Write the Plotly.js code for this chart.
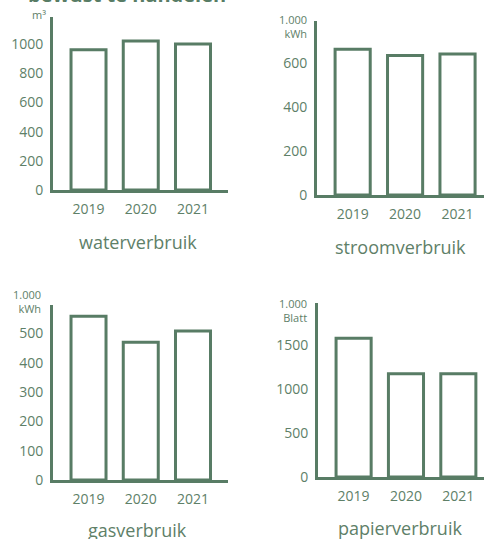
<!DOCTYPE html>
<html>
<head>
<meta charset="utf-8">
<script src="https://cdn.plot.ly/plotly-3.0.1.min.js"></script>
<style>html,body{margin:0;padding:0;background:#fff;}#chart{width:484px;height:539px;}</style>
</head>
<body>
<div id="chart"></div>
<script>
const years = ['2019', '2020', '2021'];
const water = [960, 1020, 1000];
const stroom = [661, 632, 639];
const gas = [559, 470, 508];
const papier = [1576, 1174, 1174];
const panelTitles = ['waterverbruik', 'stroomverbruik', 'gasverbruik', 'papierverbruik'];
const unitLabels = ['m³', '1.000<br>kWh', '1.000<br>kWh', '1.000<br>Blatt'];
const headline = 'bewust te handelen';

const W = 484, H = 539;
const LINE = '#587c65';
const TEXT = '#5e8068';
const FONT = 'Open Sans';

function px(x) { return x / W; }
function py(y) { return 1 - y / H; }

const series = [water, stroom, gas, papier];
const yMax = [1185, 789, 597, 1977];
const yDtick = [200, 200, 100, 500];
// pixel boxes: [left, right, top, bottom]
const boxes = [[53, 228, 17, 190], [317, 484, 21, 195], [53, 228, 305, 480], [318, 484, 303, 477]];
const xEnd = [2.67, 2.505, 2.67, 2.49];

const data = [];
const layout = {
  width: W, height: H,
  margin: {l: 0, r: 0, t: 0, b: 0},
  paper_bgcolor: '#fff', plot_bgcolor: 'rgba(0,0,0,0)',
  showlegend: false,
  bargap: 0.33,
  font: {family: FONT, color: TEXT, size: 14},
  annotations: []
};

series.forEach((vals, i) => {
  const n = i === 0 ? '' : String(i + 1);
  data.push({
    type: 'bar', x: years, y: vals,
    xaxis: 'x' + n, yaxis: 'y' + n,
    marker: {color: '#ffffff', line: {color: LINE, width: 3}},
    hoverinfo: 'skip'
  });
  const b = boxes[i];
  layout['xaxis' + n] = {
    domain: [px(b[0]), px(b[1])],
    anchor: 'y' + n,
    type: 'category',
    range: [-0.68, xEnd[i]],
    showline: true, linecolor: LINE, linewidth: 3,
    showgrid: false, zeroline: false, ticks: '',
    tickfont: {family: FONT, size: 14, color: TEXT},
    ticklabelstandoff: 4,
    fixedrange: true
  };
  layout['yaxis' + n] = {
    domain: [py(b[3]), py(b[2])],
    anchor: 'x' + n,
    range: [0, yMax[i]],
    dtick: yDtick[i], tick0: 0,
    showline: true, linecolor: LINE, linewidth: 3,
    showgrid: false, zeroline: false, ticks: '',
    tickfont: {family: FONT, size: 14, color: TEXT},
    ticklabelstandoff: 4,
    fixedrange: true
  };
  // panel title below
  const titleY = [242, 247, 530, 528][i];
  const titleX = [138, 400, 137, 400][i];
  layout.annotations.push({
    xref: 'paper', yref: 'paper', x: px(titleX), y: py(titleY),
    xanchor: 'center', yanchor: 'middle', showarrow: false,
    text: panelTitles[i], font: {family: FONT, size: 18, color: TEXT}
  });
  // unit label
  const uR = [48, 309, 43, 309][i];
  const uY = [14, 27, 301, 310][i];
  layout.annotations.push({
    xref: 'paper', yref: 'paper', x: px(uR), y: py(uY),
    xanchor: 'right', yanchor: 'middle', showarrow: false, align: 'right',
    text: unitLabels[i], font: {family: FONT, size: 11, color: TEXT}
  });
});

layout.annotations.push({
  xref: 'paper', yref: 'paper', x: px(26), y: py(10),
  xanchor: 'left', yanchor: 'bottom', showarrow: false,
  text: '<b>' + headline + '</b>', font: {family: FONT, size: 20, color: LINE}
});

Plotly.newPlot('chart', data, layout, {displayModeBar: false, staticPlot: true});
</script>
</body>
</html>
